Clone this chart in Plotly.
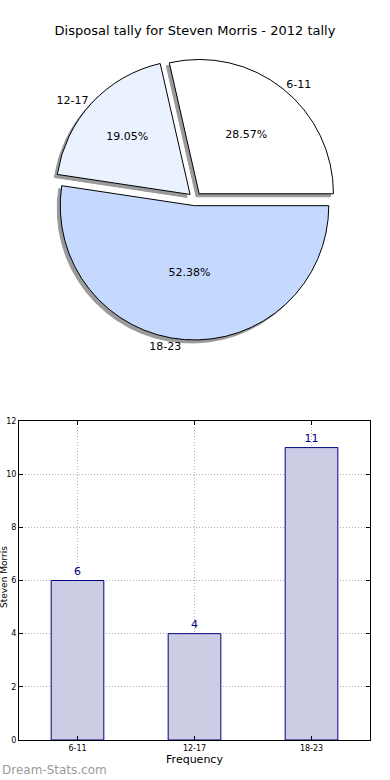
import plotly.graph_objects as go

# ---- data ----
categories = ["6-11", "12-17", "18-23"]
tally = [6, 4, 11]
pie_colors = ["#FFFFFF", "#EAF1FF", "#C5D9FF"]
title_text = "Disposal tally for Steven Morris - 2012 tally"
y_ticks = [0, 2, 4, 6, 8, 10, 12]

W, H = 390, 780
FONT = "DejaVu Sans"

def px_x(x):
    return x / W

def px_y(y):
    return 1 - y / H

# first slice starts at 3 o'clock and runs counterclockwise
rot = 90 - 360 * tally[0] / sum(tally)

# pie geometry
cx, cy, half = 195, 199, 141
pull = [0.05, 0.05, 0.05]
pie_dom_x = [px_x(cx - half), px_x(cx + half)]
pie_dom_y = [px_y(cy + half), px_y(cy - half)]
sh = 3  # shadow offset px
shadow_dom_x = [px_x(cx - half - sh), px_x(cx + half - sh)]
shadow_dom_y = [px_y(cy + half + sh), px_y(cy - half + sh)]

fig = go.Figure()

# shadow
fig.add_trace(go.Pie(
    labels=categories, values=tally, sort=False, direction="counterclockwise",
    rotation=rot, pull=pull, domain=dict(x=shadow_dom_x, y=shadow_dom_y),
    marker=dict(colors=["#9a9a9a"] * 3, line=dict(color="#9a9a9a", width=1)),
    textinfo="none", hoverinfo="skip", showlegend=False,
))
# main pie
fig.add_trace(go.Pie(
    labels=categories, values=tally, sort=False, direction="counterclockwise",
    rotation=rot, pull=pull, domain=dict(x=pie_dom_x, y=pie_dom_y),
    marker=dict(colors=pie_colors, line=dict(color="#000000", width=1)),
    texttemplate="%{percent:.2%}", textposition="inside", insidetextorientation="horizontal",
    textfont=dict(family=FONT, size=11, color="#000000"),
    showlegend=False,
))
# outside labels
fig.add_trace(go.Pie(
    labels=categories, values=tally, sort=False, direction="counterclockwise",
    rotation=rot, pull=pull, domain=dict(x=pie_dom_x, y=pie_dom_y),
    marker=dict(colors=["rgba(0,0,0,0)"] * 3, line=dict(width=0)),
    texttemplate="%{label}", textposition="outside",
    outsidetextfont=dict(family=FONT, size=11, color="#000000"),
    hoverinfo="skip", showlegend=False,
))

# bar chart
fig.add_trace(go.Bar(
    x=categories, y=tally, width=0.45,
    marker=dict(color="#CCCCE5", line=dict(color="#000080", width=1)),
    text=tally, texttemplate="%{y}", textposition="outside",
    textfont=dict(family=FONT, size=11, color="#000080"),
    cliponaxis=False, showlegend=False,
))

grid_dash = "1px,2px"

fig.update_layout(
    width=W, height=H,
    margin=dict(l=0, r=0, t=0, b=0, autoexpand=False),
    paper_bgcolor="white", plot_bgcolor="white",
    font=dict(family=FONT, color="#000000"),
    title=dict(text=title_text, x=0.5, xanchor="center", y=px_y(30), yanchor="middle",
               font=dict(family=FONT, size=13, color="#000000")),
    xaxis=dict(domain=[px_x(19), px_x(370)], range=[-0.5, 2.5], automargin=False,
               showline=True, mirror="ticks", linecolor="#000000", linewidth=1,
               ticks="inside", ticklen=4, tickcolor="#000000",
               showgrid=True, gridcolor="#b0b0b0", griddash=grid_dash, gridwidth=1,
               tickfont=dict(family=FONT, size=8, color="#000000"),
               title=dict(text="Frequency", font=dict(family=FONT, size=11), standoff=2),
               fixedrange=True),
    yaxis=dict(domain=[px_y(740), px_y(421)], range=[0, 12], tickvals=y_ticks, automargin=False,
               showline=True, mirror="ticks", linecolor="#000000", linewidth=1,
               ticks="inside", ticklen=4, tickcolor="#000000",
               showgrid=True, gridcolor="#b0b0b0", griddash=grid_dash, gridwidth=1,
               zeroline=False,
               tickfont=dict(family=FONT, size=8, color="#000000"),
               fixedrange=True),
    annotations=[
        dict(text="Steven Morris", textangle=-90, xref="paper", yref="paper",
             x=px_x(10), y=px_y(577), xanchor="right", yanchor="middle",
             showarrow=False, borderpad=0,
             font=dict(family=FONT, size=9, color="#000000")),
        dict(text="Dream-Stats.com", xref="paper", yref="paper",
             x=0, y=px_y(770), xanchor="left", yanchor="middle",
             showarrow=False, font=dict(family=FONT, size=12, color="#9a9a9a")),
    ],
)

fig.write_html(
    "out.html",
    config={"displayModeBar": False},
    post_script="document.body.style.margin='0';document.body.style.overflow='hidden';",
)
